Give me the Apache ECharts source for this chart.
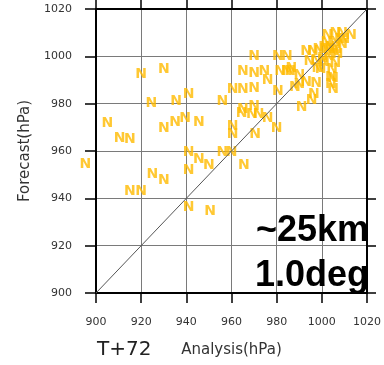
<!DOCTYPE html>
<html>
<head>
<meta charset="utf-8">
<script src="https://cdn.jsdelivr.net/npm/echarts@6/dist/echarts.min.js"></script>
<style>
  html, body { margin: 0; padding: 0; background: #fff; }
  #chart { width: 384px; height: 365px; }
</style>
</head>
<body>
<div id="chart"></div>
<script>
// axis ticks (hPa)
const tickMin = 900;
const tickMax = 1020;
const tickStep = 20;

// analysis (x) and forecast (y) pressure
const analysis = [
  920, 930, 924.5, 935.5, 941, 905, 910.5, 915, 930, 935, 939.5, 945.5, 895.3, 915, 920, 925, 930,
  956, 960.5, 965, 970, 974.5, 970, 965, 970, 965, 970, 964.5, 969, 972, 976, 960.5,
  941, 941, 945.5, 950, 956, 960, 960.5, 965.5, 970.5, 941, 950.5, 980,
  980.5, 984.5, 981.5, 984.5, 986, 990, 980.5, 988, 990, 993, 997.5, 996.5, 995.5, 991,
  993, 996, 998.5, 1002.5, 994.5, 997.5, 1000.5, 1002.5, 1006, 1009, 1013,
  1004.5, 1005, 1005, 1001, 1006, 1009, 999.5, 976, 1004, 986.5, 1002, 1007,
  1004, 1006, 1003, 1005, 1008, 1001, 998, 1010, 1003.5, 1006.5
];
const forecast = [
  992.5, 994.5, 980, 981, 984, 971.5, 965.5, 965, 969.5, 972, 974, 972, 954.5, 943, 943, 950, 947.5,
  981, 986, 993.5, 993, 993.5, 1000, 986, 986.5, 977.5, 979, 976, 975.5, 975.5, 974, 970.5,
  959.5, 952, 956.5, 954, 959.5, 959.5, 967, 954, 967, 936, 934.5, 969.5,
  1000, 1000, 993.5, 993.5, 993.5, 992, 985, 987, 988, 989, 988.5, 984, 981.5, 978.5,
  1002, 1002, 1003, 1003, 998, 998.5, 999, 1009, 1009.5, 1009.5, 1009,
  994.5, 990.5, 986, 997.5, 1006, 1005, 994.5, 990, 991, 995, 1006, 1001,
  988, 997, 1000, 1002, 1007, 1004, 995, 1007, 1004, 1003
];

const points = analysis.map((a, i) => [a, forecast[i]]);

const chart = echarts.init(document.getElementById('chart'), null, { renderer: 'canvas' });

const labelFont = 'DejaVu Sans';
const plainTick = v => String(v);
const hiddenAxis = {
  min: tickMin, max: tickMax, interval: tickStep,
  axisLine: { show: true, lineStyle: { color: '#000', width: 2 } },
  axisTick: { show: true, inside: false, length: 9, lineStyle: { color: '#000', width: 1.5 } },
  axisLabel: { show: false },
  splitLine: { show: false }
};

const option = {
  animation: false,
  grid: { left: 96, top: 9, width: 282, height: 284 },
  xAxis: [
    {
      type: 'value', position: 'bottom',
      min: tickMin, max: tickMax, interval: tickStep,
      name: 'Analysis(hPa)', nameLocation: 'middle', nameGap: 50,
      nameTextStyle: { fontFamily: labelFont, fontSize: 15, color: '#333' },
      axisLine: { show: true, lineStyle: { color: '#000', width: 2 } },
      axisTick: { show: true, inside: false, length: 10, lineStyle: { color: '#000', width: 1.5 } },
      axisLabel: { margin: 24, fontFamily: labelFont, fontSize: 11, color: '#333', formatter: plainTick },
      splitLine: { show: true, lineStyle: { color: '#7a7a7a', width: 1 } }
    },
    Object.assign({ type: 'value', position: 'top' }, hiddenAxis)
  ],
  yAxis: [
    {
      type: 'value', position: 'left',
      min: tickMin, max: tickMax, interval: tickStep,
      name: 'Forecast(hPa)', nameLocation: 'middle', nameGap: 62,
      nameTextStyle: { fontFamily: labelFont, fontSize: 15, color: '#333' },
      axisLine: { show: true, lineStyle: { color: '#000', width: 2 } },
      axisTick: { show: true, inside: false, length: 11, lineStyle: { color: '#000', width: 1.5 } },
      axisLabel: { margin: 24, fontFamily: labelFont, fontSize: 11, color: '#333', formatter: plainTick },
      splitLine: { show: true, lineStyle: { color: '#7a7a7a', width: 1 } }
    },
    Object.assign({ type: 'value', position: 'right' }, hiddenAxis)
  ],
  graphic: [
    {
      type: 'text', left: 97, top: 340,
      style: { text: 'T+72', font: '20px "DejaVu Sans"', fill: '#222' }
    },
    {
      type: 'text', right: 15, top: 209, z: 10,
      style: {
        text: '~25km\n1.0deg', font: 'bold 36px "Liberation Sans"', fill: '#000',
        textAlign: 'right', lineHeight: 45
      }
    }
  ],
  series: [
    {
      type: 'scatter',
      xAxisIndex: 0, yAxisIndex: 0,
      data: points,
      clip: false,
      symbolSize: 1,
      itemStyle: { color: 'rgba(0,0,0,0)' },
      label: {
        show: true, position: 'inside', formatter: 'N',
        fontFamily: labelFont, fontSize: 14, fontWeight: 'bold', color: '#FFBA00'
      },
      z: 2
    },
    {
      type: 'line',
      xAxisIndex: 0, yAxisIndex: 0,
      data: [[tickMin, tickMin], [tickMax, tickMax]],
      symbol: 'none',
      lineStyle: { color: '#555', width: 1 },
      z: 5
    }
  ]
};

chart.setOption(option);
</script>
</body>
</html>
